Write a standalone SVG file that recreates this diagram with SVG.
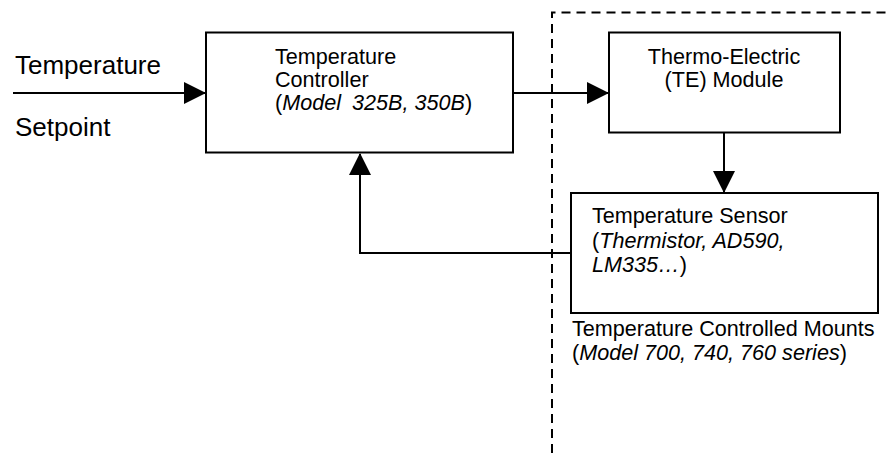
<svg xmlns="http://www.w3.org/2000/svg" width="890" height="453" viewBox="0 0 890 453">
<style>
text{font-family:"Liberation Sans",Arial,sans-serif;font-size:21.6px;fill:#000}
.big{font-size:26px}
.it{font-style:italic}
.box{fill:#fff;stroke:#000;stroke-width:2}
.ln{fill:none;stroke:#000;stroke-width:2}
.dash{fill:none;stroke:#000;stroke-width:2;stroke-dasharray:9,6}
</style>
<defs>
<marker id="ah" markerUnits="userSpaceOnUse" markerWidth="22" markerHeight="22" viewBox="0 0 22 22" refX="21" refY="11" orient="auto">
<path d="M0,0 L22,11 L0,22 z" fill="#000"/>
</marker>
</defs>
<path class="dash" d="M552,453 V12.5 H890"/>
<g id="connectors">
<path class="ln" d="M13,93 H205" marker-end="url(#ah)"/>
<path class="ln" d="M513,93 H608" marker-end="url(#ah)"/>
<path class="ln" d="M724,133 V192" marker-end="url(#ah)"/>
<path class="ln" d="M571,253 H360 V154" marker-end="url(#ah)"/>
</g>
<g id="setpoint">
<text class="big" x="15" y="74">Temperature</text>
<text class="big" x="15" y="136">Setpoint</text>
</g>
<g id="controller">
<rect class="box" x="206" y="32.5" width="307" height="120"/>
<text x="275" y="64">Temperature</text>
<text x="275" y="87">Controller</text>
<text x="275" y="110">(<tspan class="it">Model</tspan><tspan class="it" dx="11">325B, 350B</tspan>)</text>
</g>
<g id="te-module">
<rect class="box" x="609" y="32.5" width="231" height="100"/>
<text x="724" y="64" text-anchor="middle">Thermo-Electric</text>
<text x="724" y="87" text-anchor="middle">(TE) Module</text>
</g>
<g id="sensor">
<rect class="box" x="571" y="193" width="307" height="120"/>
<text x="592" y="223">Temperature Sensor</text>
<text x="592" y="248">(<tspan class="it">Thermistor, AD590,</tspan></text>
<text x="592" y="272"><tspan class="it">LM335…</tspan>)</text>
</g>
<g id="mounts-label">
<text x="572" y="336">Temperature Controlled Mounts</text>
<text x="572" y="360">(<tspan class="it">Model 700, 740, 760 series</tspan>)</text>
</g>
</svg>
